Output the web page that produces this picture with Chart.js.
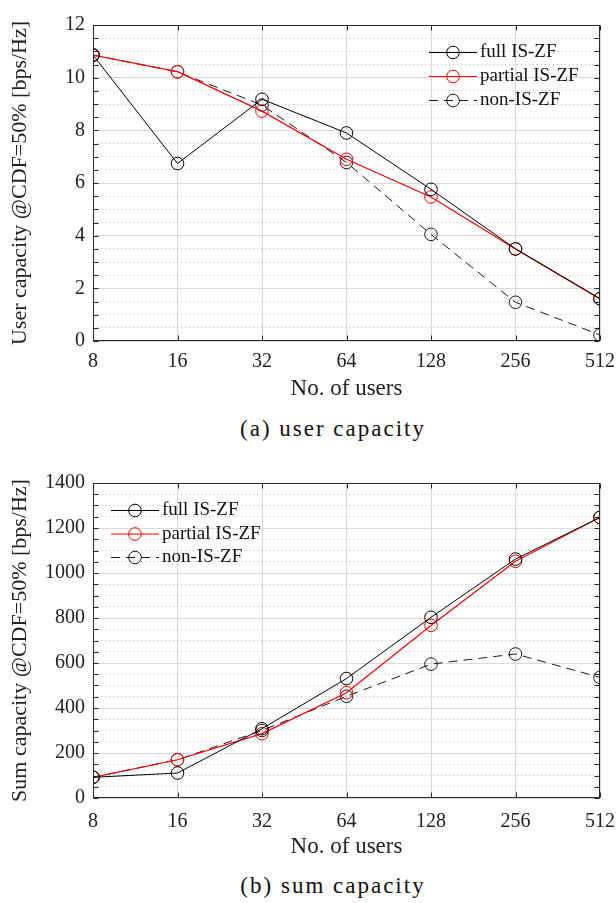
<!DOCTYPE html>
<html>
<head>
<meta charset="utf-8">
<script src="https://cdn.jsdelivr.net/npm/chart.js@4.4.1/dist/chart.umd.min.js"></script>
<style>
  html, body { margin: 0; padding: 0; background: #fff; }
  body { width: 616px; height: 903px; position: relative; overflow: hidden; }
  canvas { position: absolute; left: 0; }
  .cap { position: absolute; left: 0; width: 666px; text-align: center;
         font-family: 'Liberation Serif', serif; font-size: 23px; letter-spacing: 2px; color: #111; }
</style>
</head>
<body>
<canvas id="c1" width="616" height="400" style="top:0px;width:616px;height:400px"></canvas>
<div class="cap" style="top:416px">(a) user capacity</div>
<canvas id="c2" width="616" height="403" style="top:455px;width:616px;height:403px"></canvas>
<div class="cap" style="top:873px">(b) sum capacity</div>
<script>
// ---- data ----
const users = [8, 16, 32, 64, 128, 256, 512];
const seriesNames = ['full IS-ZF', 'partial IS-ZF', 'non-IS-ZF'];
const userFull    = [10.86, 6.74, 9.18, 7.90, 5.76, 3.50, 1.61];
const userPartial = [10.86, 10.23, 8.73, 6.90, 5.47, 3.49, 1.60];
const userNon     = [10.86, 10.22, 8.96, 6.78, 4.05, 1.47, 0.23];
const sumFull     = [92, 111, 308, 531, 803, 1062, 1247];
const sumPartial  = [92, 170, 286, 468, 767, 1052, 1247];
const sumNon      = [92, 170, 300, 452, 595, 640, 536];
const userTicks = [0, 2, 4, 6, 8, 10, 12];
const sumTicks  = [0, 200, 400, 600, 800, 1000, 1200, 1400];

Chart.defaults.font.family = "'Liberation Serif', 'Times New Roman', serif";
Chart.defaults.color = '#222';

const styles = [
  { borderColor: '#000000', borderDash: [] },
  { borderColor: '#ff0000', borderDash: [] },
  { borderColor: '#1a1a1a', borderDash: [9, 6] }
];

function makeDatasets(arrs) {
  return arrs.map((vals, i) => ({
    label: seriesNames[i],
    data: users.map((u, k) => ({ x: u, y: vals[k] })),
    borderColor: styles[i].borderColor,
    borderDash: styles[i].borderDash,
    borderWidth: i === 1 ? 1.2 : 1,
    pointStyle: 'circle',
    pointRadius: 6.3,
    pointBorderWidth: 1,
    pointBorderColor: styles[i].borderColor,
    pointBackgroundColor: 'rgba(0,0,0,0)',
    fill: false,
    tension: 0
  }));
}

const boxPlugin = {
  id: 'box',
  afterDatasetsDraw(chart) {
    const { ctx, chartArea: a, scales } = chart;
    const xs = scales.x, ys = scales.y;
    ctx.save();
    ctx.setLineDash([]);
    ctx.strokeStyle = '#262626';
    ctx.lineWidth = 1;
    const L = Math.round(a.left) + 0.5, R = Math.round(a.right) - 0.5;
    const T = Math.round(a.top) + 0.5, B = Math.round(a.bottom) - 0.5;
    ctx.strokeRect(L, T, R - L, B - T);
    const tl = 5;
    ctx.beginPath();
    ys.ticks.forEach(t => {
      const p = Math.round(ys.getPixelForValue(t.value)) + 0.5;
      ctx.moveTo(L, p); ctx.lineTo(L + tl, p);
      ctx.moveTo(R, p); ctx.lineTo(R - tl, p);
    });
    users.forEach(u => {
      const p = Math.round(xs.getPixelForValue(u)) + 0.5;
      ctx.moveTo(p, B); ctx.lineTo(p, B - tl);
      ctx.moveTo(p, T); ctx.lineTo(p, T + tl);
    });
    ctx.stroke();
    ctx.restore();
  },
  afterDraw(chart) {
    const o = chart.options.plugins.box;
    if (!o) return;
    const { ctx, chartArea: a } = chart;
    const x0 = o.anchor === 'right' ? a.right + o.dx : a.left + o.dx;
    ctx.save();
    chart.data.datasets.forEach((ds, i) => {
      const y = a.top + o.dy + i * o.gap + 0.5;
      ctx.strokeStyle = ds.borderColor;
      ctx.lineWidth = ds.borderWidth;
      ctx.setLineDash(ds.borderDash || []);
      ctx.beginPath(); ctx.moveTo(x0, y); ctx.lineTo(x0 + 48, y); ctx.stroke();
      ctx.setLineDash([]);
      ctx.lineWidth = 1;
      ctx.beginPath(); ctx.arc(x0 + 24, y, 6.3, 0, Math.PI * 2); ctx.stroke();
      ctx.fillStyle = '#111';
      ctx.font = "19px 'Liberation Serif'";
      ctx.textBaseline = 'middle';
      ctx.textAlign = 'left';
      ctx.fillText(ds.label, x0 + 51, y);
    });
    ctx.restore();
  }
};

function makeChart(id, arrs, yMax, minorStep, majorTicks, yTitle, pad, xH, legendOpts, xTickPad) {
  const isMajor = v => majorTicks.some(m => Math.abs(m - v) < 1e-9);
  return new Chart(document.getElementById(id), {
    type: 'line',
    data: { datasets: makeDatasets(arrs) },
    plugins: [boxPlugin],
    options: {
      responsive: false,
      animation: false,
      devicePixelRatio: 1,
      layout: { padding: pad },
      plugins: { legend: { display: false }, tooltip: { enabled: false }, box: legendOpts },
      scales: {
        x: {
          type: 'logarithmic',
          min: 8, max: 512,
          afterBuildTicks: s => { s.ticks = users.map(v => ({ value: v })); },
          afterFit: s => { s.height = xH; s.paddingLeft = 0; s.paddingRight = 0; },
          ticks: { autoSkip: false, maxRotation: 0, padding: xTickPad, font: { size: 20 }, color: '#222',
                   callback: v => String(v) },
          grid: { drawTicks: false, color: '#dadada', lineWidth: 1 },
          border: { display: false },
          title: { display: true, text: 'No. of users', font: { size: 23, lineHeight: 1 }, color: '#222',
                   padding: { top: 0, bottom: 0 } }
        },
        y: {
          min: 0, max: yMax,
          afterFit: s => { s.width = 93; s.paddingTop = 0; s.paddingBottom = 0; },
          ticks: { autoSkip: false, stepSize: minorStep, padding: 8, font: { size: 20 }, color: '#222',
                   callback: v => isMajor(v) ? String(v) : '' },
          grid: {
            drawTicks: false, lineWidth: 1,
            color: c => (c.tick && !isMajor(c.tick.value)) ? '#bdbdbd' : '#dadada'
          },
          border: { display: false, dash: c => (c.tick && !isMajor(c.tick.value)) ? [1, 3] : [] },
          title: { display: true, text: yTitle, font: { size: 22, lineHeight: 1 }, color: '#222',
                   padding: { top: 9, bottom: 0 } }
        }
      }
    }
  });
}

makeChart('c1', [userFull, userPartial, userNon], 12, 0.5, userTicks,
  'User capacity @CDF=50% [bps/Hz]', { top: 25, right: 16, left: 0, bottom: 0 }, 59,
  { anchor: 'right', dx: -171, dy: 27, gap: 24 }, 9);
makeChart('c2', [sumFull, sumPartial, sumNon], 1400, 50, sumTicks,
  'Sum capacity @CDF=50% [bps/Hz]', { top: 28, right: 16, left: 0, bottom: 0 }, 60,
  { anchor: 'left', dx: 18, dy: 27, gap: 23.5 }, 12);
</script>
</body>
</html>
